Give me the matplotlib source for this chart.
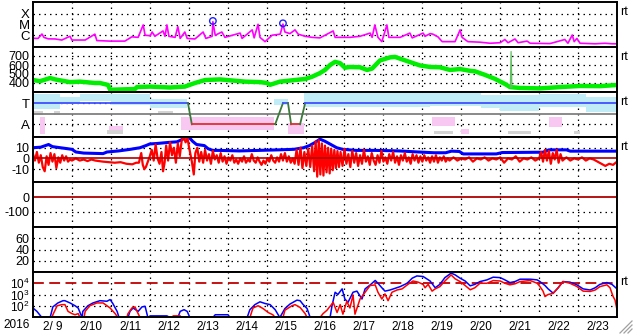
import numpy as np
import matplotlib
matplotlib.use("Agg")
import matplotlib.pyplot as plt
from matplotlib.lines import Line2D
from matplotlib.ticker import NullFormatter

plt.rcParams['font.family'] = 'Liberation Sans'
plt.rcParams['mathtext.fontset'] = 'custom'
plt.rcParams['mathtext.rm'] = 'Liberation Sans'
plt.rcParams['axes.unicode_minus'] = False

# time axis: days since 2016-02-09 00:00 UT
day_labels = ["2/ 9", "2/10", "2/11", "2/12", "2/13", "2/14", "2/15", "2/16",
              "2/17", "2/18", "2/19", "2/20", "2/21", "2/22", "2/23"]

# --- X-ray flux (log10 W/m2)
xray_t = [0.0, 0.13, 0.23, 0.28, 0.39, 0.57, 0.74, 0.95, 1.0, 1.34, 1.59, 1.64, 1.98, 2.36,
          2.54, 2.70, 2.83, 2.88, 3.01, 3.06, 3.13, 3.34, 3.39, 3.44, 3.49, 3.65, 3.72, 3.78,
          3.90, 3.96, 4.16, 4.37, 4.44, 4.60, 4.62, 4.68, 4.85, 4.93, 5.32, 5.37, 5.63, 5.68,
          5.78, 5.83, 5.96, 6.14, 6.35, 6.42, 6.47, 6.60, 6.73, 6.81, 6.99, 7.17, 7.37, 7.71,
          7.76, 8.14, 8.40, 8.66, 8.71, 8.78, 8.86, 8.96, 9.09, 9.14, 9.43, 9.68, 9.74, 10.02,
          10.07, 10.20, 10.27, 10.40, 10.51, 10.84, 10.97, 11.02, 11.17, 11.48, 11.74, 12.0,
          12.12, 12.2, 12.38, 12.46, 12.69, 12.77, 13.28, 13.66, 13.74, 13.85, 13.9, 13.97,
          14.05, 14.44, 14.69, 14.87, 15.0]
xray_log = [-6.29, -6.3, -5.89, -6.2, -6.34, -6.35, -6.45, -6.1, -6.45, -6.45, -5.9, -6.5, -6.55, -6.55,
            -6.15, -6.2, -5.04, -6.0, -6.05, -5.7, -6.1, -5.6, -6.1, -5.04, -6.1, -6.2, -5.2, -6.3,
            -5.7, -6.3, -6.35, -5.7, -6.3, -6.1, -4.74, -6.0, -5.7, -6.2, -5.8, -6.3, -5.5, -6.25,
            -4.98, -6.2, -6.6, -6.0, -5.9, -4.96, -5.7, -5.85, -5.5, -5.9, -6.1, -6.2, -6.25, -5.6,
            -6.2, -6.2, -6.1, -5.8, -6.2, -5.04, -6.2, -6.6, -5.04, -6.2, -6.2, -5.8, -6.25, -5.8,
            -6.1, -5.85, -5.9, -6.15, -6.6, -6.6, -5.5, -6.2, -6.6, -6.65, -6.75, -6.7,
            -6.4, -6.7, -6.35, -6.7, -6.55, -6.75, -6.78, -6.4, -6.75, -5.98, -6.6, -6.3,
            -6.75, -6.8, -6.75, -6.8, -6.8]
flare_t = [4.62, 6.42]
flare_log = [-4.67, -4.89]

# --- solar wind speed (km/s)
sw_t = [0.0, 0.18, 0.44, 0.57, 0.69, 0.95, 1.21, 1.59, 1.72, 1.93, 1.98, 2.23, 2.62, 2.67, 3.01,
        3.52, 3.90, 4.16, 4.42, 4.80, 5.06, 5.45, 5.83, 6.01, 6.09, 6.34, 6.73, 6.99, 7.17, 7.37,
        7.50, 7.63, 7.76, 7.89, 8.01, 8.14, 8.40, 8.58, 8.71, 8.91, 9.17, 9.30, 9.43, 9.68, 9.94,
        10.20, 10.45, 10.71, 10.97, 11.23, 11.35, 11.61, 11.87, 12.12, 12.25, 12.51, 13.02,
        13.54, 14.05, 14.56, 15.0]
sw_v = [433, 420, 455, 440, 430, 410, 415, 400, 400, 378, 325, 328, 333, 355, 360,
        350, 360, 400, 433, 440, 430, 415, 410, 400, 380, 415, 433, 445, 470, 510,
        545, 600, 635, 620, 570, 578, 575, 545, 560, 650, 685, 690, 670, 633, 595,
        578, 575, 545, 555, 535, 530, 490, 445, 390, 355, 345, 340,
        355, 367, 365, 378]
sw_spike_t = [12.26, 12.28, 12.30]
sw_spike_v = [352, 750, 350]

# --- IMF sector (T = +1, A = -1) and phi-angle scatter ranges
sector_t = [0.0, 3.98, 4.08, 6.22, 6.42, 6.55, 6.63, 6.86, 6.99, 15.0]
sector_v = [1, 1, -1, -1, 1, 1, -1, -1, 1, 1]
toward_bands = [(0.0, 0.7, 0.4, 1.9), (0.7, 1.2, 0.9, 1.6), (1.2, 2.0, 1.2, 1.9),
                (2.0, 3.0, 0.8, 1.9), (3.0, 3.95, 0.5, 1.4), (6.2, 6.55, 0.8, 1.4),
                (6.95, 10.2, 0.6, 1.95), (10.2, 11.5, 0.7, 1.95), (11.5, 12.0, 0.5, 1.8),
                (12.0, 13.0, 0.3, 1.8), (13.0, 14.2, 0.6, 1.9), (14.2, 15.0, 0.2, 1.6)]
away_bands = [(0.18, 0.32, -1.9, -0.3), (1.95, 2.3, -1.8, -1.2), (3.8, 6.2, -1.5, -0.3),
              (6.55, 6.95, -1.9, -0.9), (10.25, 10.85, -1.2, -0.3), (11.0, 11.2, -1.9, -1.4),
              (13.25, 13.6, -1.3, -0.3)]
other_bands = [(0.0, 0.25, -0.1, 0.3), (0.55, 0.7, -0.1, 0.3), (1.9, 2.3, -1.95, -1.5),
               (3.2, 3.6, 0.0, 0.3), (10.3, 10.8, -1.95, -1.6), (12.2, 12.8, -1.95, -1.6),
               (13.9, 14.05, -1.95, -1.6)]

# --- IMF Bt / Bz (nT)
bt_t = [0.0, 0.2, 0.4, 0.5, 0.7, 0.9, 1.0, 1.1, 1.3, 1.8, 1.9, 2.2, 2.5, 2.75, 2.9, 3.0, 3.2,
        3.5, 3.7, 3.85, 3.9, 4.0, 4.1, 4.2, 4.4, 4.5, 4.62, 4.8, 5.3, 5.8, 6.3, 6.7, 6.95,
        7.1, 7.25, 7.37, 7.5, 7.65, 7.8, 7.95, 8.3, 8.8, 9.4, 9.9, 10.3, 10.6, 10.75, 10.95,
        11.05, 11.9, 12.05, 13.1, 13.25, 13.7, 13.8, 15.0]
bt_v = [10, 10.5, 13, 11, 10, 9, 8.5, 6, 5, 4.5, 6, 7, 8.5, 10, 12, 13.5, 14,
        15, 15.5, 18, 20, 20, 16, 13, 12, 9, 7.5, 7.5, 7, 7.5, 8, 8.5, 10,
        12, 15, 18, 16, 13, 10, 8.5, 7.5, 7.5, 7, 6, 5.3, 5.3, 6.8, 6.5,
        4.2, 4.2, 5.5, 5.8, 8, 8, 6.8, 6.8]
bz_t = [0.0, 0.05, 0.1, 0.15, 0.2, 0.25, 0.3, 0.35, 0.4, 0.45, 0.5, 0.55, 0.6, 0.65, 0.7,
        0.75, 0.8, 0.85, 0.9, 0.95, 1.0, 1.1, 1.2, 1.3, 1.4, 1.5, 1.6, 1.7, 1.8, 1.95, 2.1,
        2.25, 2.4, 2.55, 2.65, 2.72, 2.78, 2.82, 2.86, 2.9, 2.95, 3.0, 3.05, 3.1, 3.15, 3.2,
        3.25, 3.3, 3.34, 3.38, 3.42, 3.47, 3.52, 3.57, 3.62, 3.67, 3.72, 3.77, 3.82, 3.87,
        3.92, 3.97, 4.0, 4.08, 4.13, 4.17, 4.22, 4.27, 4.32, 4.37, 4.42, 4.47, 4.52, 4.57,
        4.62, 4.67, 4.72, 4.77, 4.82, 4.87, 4.92, 4.97, 5.02, 5.07, 5.12, 5.17, 5.22, 5.27,
        5.32, 5.37, 5.42, 5.47, 5.52, 5.57, 5.62, 5.67, 5.72, 5.77, 5.82, 5.87, 5.92, 5.97,
        6.02, 6.07, 6.12, 6.17, 6.22, 6.27, 6.32, 6.37, 6.42, 6.47, 6.52, 6.57, 6.62, 6.67,
        6.72, 6.77, 6.82, 6.87, 6.92, 6.97, 7.02, 7.07, 7.12, 7.17, 7.22, 7.26, 7.3, 7.34,
        7.38, 7.42, 7.46, 7.5, 7.54, 7.58, 7.62, 7.66, 7.7, 7.74, 7.78, 7.82, 7.86, 7.9,
        7.95, 8.0, 8.05, 8.1, 8.15, 8.2, 8.25, 8.3, 8.35, 8.4, 8.45, 8.5, 8.55, 8.6, 8.65,
        8.7, 8.75, 8.8, 8.85, 8.9, 8.95, 9.0, 9.05, 9.1, 9.15, 9.2, 9.25, 9.3, 9.35, 9.4,
        9.45, 9.5, 9.55, 9.6, 9.65, 9.7, 9.75, 9.8, 9.85, 9.9, 9.95, 10.0, 10.05, 10.1,
        10.15, 10.2, 10.25, 10.3, 10.35, 10.4, 10.45, 10.5, 10.55, 10.6, 10.65, 10.7, 10.8,
        10.9, 11.0, 11.1, 11.2, 11.3, 11.4, 11.5, 11.6, 11.7, 11.8, 11.9, 12.0, 12.1, 12.2,
        12.3, 12.4, 12.5, 12.6, 12.7, 12.8, 12.9, 13.0, 13.05, 13.1, 13.15, 13.2, 13.25,
        13.3, 13.35, 13.4, 13.45, 13.5, 13.55, 13.6, 13.7, 13.8, 13.9, 14.0, 14.1, 14.2,
        14.3, 14.4, 14.5, 14.6, 14.7, 14.8, 14.9, 15.0]
bz_v = [4, -2, 6, -4, 3, -8, -12, 2, -6, 5, -3, 4, -9, 1, -4,
        3, -2, 2, -3, -1, -2, 0, -2, -1, -2.5, -1, -2, -2.5, -3, -3.5, -4,
        -3.5, -5, -5.5, -4, -4, 5, -6, -10, -8, -3, 2, 8, -2, 13, 0,
        -5, 6, -12, -4, 12, -2, 15, 3, 10, -4, 14, 2, 17, 20,
        15, 19, 12, -3, -15, 5, 10, -3, 6, -4, 8, -2, 4, -5,
        7, -1, 3, -4, 5, -3, 2, -5, 1, -2, 3, -4, -1, -5,
        0, -3, 2, -4, -1, -3, 4, -2, -4, 1, -3, -6, -2, -5,
        0, -3, 3, -2, -4, 1, -3, 4, -2, 5, -3, 2, -4, 0,
        -5, 8, -6, 10, -9, 6, -7, 9, -8, 12, -12, 16, -17, 17,
        -15, 14, -16, 12, -13, 10, -14, 9, -11, 8, -9, 7, -8, 6,
        -7, 9, -5, 4, -8, 7, -4, 5, -7, 3, -5, 8, -3, 2, -6,
        5, -2, -6, 3, -4, 7, -3, 1, -5, 4, -2, 6, -4, 2, -6,
        3, -2, 5, -3, 1, -5, 4, -2, 3, -4, 2, -3, 3, -2,
        1, -4, 2, -3, 3, -4, 1, -2, 2, -3, 0, -2, 1,
        -2, 0, -1, 1, -3, 0, -1, 1, -2, 0, -1, 1, -4, 0,
        -1, 2, -3, 0, -1, 1, -2, 0, 6, -3, 8, -2, 7,
        -5, 5, -1, 8, -4, 4, -2, 1, -2, 0, -1, 1, -2,
        0, -1, -3, -5, -7, -5, -6, -3]

# --- Dst (no data) and empty index panel
dst_zero = 0

# --- >2 MeV electron flux (log10), GOES east (blue) / west (red)
elec_blue_t = [0.00, 0.10, 0.23, 0.44, 0.51, 0.64, 0.77, 0.82, 0.95, 1.08, 1.16, 1.26, 1.28, 1.41,
               1.54, 1.72, 1.90, 1.98, 2.05, 2.16, 2.21, 2.44, 2.49, 2.57, 2.70, 2.80, 2.88, 2.95,
               3.01, 3.44, 3.52, 3.72, 3.78, 3.88, 3.96, 4.03, 4.62, 4.68, 5.01, 5.06, 5.50, 5.57,
               5.70, 5.83, 5.96, 6.09, 6.22, 6.34, 6.47, 6.60, 6.78, 6.86, 6.94, 7.04, 7.12, 7.63,
               7.68, 7.76, 7.83, 7.94, 8.01, 8.09, 8.22, 8.32, 8.45, 8.53, 8.66, 8.79, 8.86, 8.96,
               9.04, 9.17, 9.30, 9.43, 9.61, 9.74, 9.86, 10.02, 10.20, 10.33, 10.45, 10.58, 10.74,
               10.84, 10.97, 11.10, 11.23, 11.35, 11.48, 11.66, 11.82, 12.00, 12.12, 12.25, 12.38,
               12.51, 12.77, 12.95, 13.02, 13.15, 13.23, 13.36, 13.49, 13.61, 13.79, 13.97, 14.13,
               14.31, 14.44, 14.56, 14.74, 14.87, 15.0]
elec_blue_v = [1.8, 1.5, 0.95, 0.95, 1.9, 2.25, 2.45, 2.45, 2.25, 2.0, 1.8, 0.95, 1.5, 2.0,
               2.25, 2.45, 2.4, 2.55, 2.2, 1.5, 0.95, 0.95, 1.5, 1.8, 1.5, 1.9, 1.95, 0.95,
               1.1, 1.1, 0.95, 0.95, 1.5, 1.65, 1.5, 0.95, 0.95, 1.2, 1.2, 0.95, 0.95, 1.65,
               2.1, 2.35, 2.2, 2.1, 1.65, 0.95, 1.75, 2.15, 2.5, 2.45, 2.1, 1.75, 0.95, 0.95,
               2.0, 3.2, 3.0, 3.5, 2.6, 2.3, 3.2, 3.3, 2.6, 3.5, 3.85, 4.25, 4.0, 3.6,
               3.3, 3.4, 3.55, 3.7, 4.0, 4.45, 4.65, 4.6, 4.2, 3.6, 3.9, 4.5, 4.9,
               4.75, 4.45, 4.2, 3.77, 3.9, 4.15, 4.3, 4.54, 4.5, 4.3, 4.06, 4.15,
               4.36, 4.36, 4.3, 4.15, 3.8, 3.5, 3.12, 3.6, 4.15, 4.1, 3.86, 3.5,
               3.4, 3.6, 3.9, 4.06, 3.9, 3.5]
elec_red_t = [0.0, 0.49, 0.51, 0.62, 0.74, 0.82, 0.90, 1.0, 1.08, 1.16, 1.21, 1.31, 1.34, 1.46,
              1.64, 1.80, 1.90, 1.98, 2.11, 2.18, 2.41, 2.44, 2.54, 2.62, 2.70, 2.75, 3.57, 3.60,
              3.78, 3.80, 5.57, 5.65, 5.78, 5.91, 6.04, 6.16, 6.22, 6.42, 6.47, 6.65, 6.73, 6.86,
              6.99, 7.04, 7.37, 7.45, 7.55, 7.71, 7.81, 7.89, 7.96, 8.06, 8.14, 8.22, 8.27, 8.40,
              8.53, 8.66, 8.79, 8.86, 8.96, 9.04, 9.12, 9.22, 9.35, 9.48, 9.63, 9.76, 9.89, 10.02,
              10.07, 10.15, 10.25, 10.33, 10.45, 10.58, 10.74, 10.84, 10.97, 11.10, 11.23, 11.35,
              11.48, 11.66, 11.82, 12.00, 12.12, 12.25, 12.38, 12.51, 12.77, 12.95, 13.02, 13.10,
              13.15, 13.23, 13.36, 13.49, 13.61, 13.79, 13.97, 14.13, 14.31, 14.44, 14.56, 14.74,
              14.82, 14.90, 14.95, 15.0]
elec_red_v = [0.95, 0.95, 1.2, 2.0, 2.1, 2.1, 1.5, 1.3, 1.2, 1.3, 0.95, 0.95, 1.5, 2.0,
              2.25, 2.25, 2.0, 1.8, 1.3, 0.95, 0.95, 1.3, 1.8, 1.9, 1.3, 0.95, 0.95, 1.1,
              1.1, 0.95, 0.95, 1.8, 2.0, 1.75, 1.4, 1.2, 0.95, 0.95, 1.6, 2.0, 2.1, 1.85,
              1.3, 0.95, 0.95, 1.3, 1.6, 2.3, 1.4, 2.1, 1.25, 2.4, 1.8, 2.95, 1.25, 2.6,
              3.2, 3.8, 3.85, 3.2, 2.6, 3.05, 2.45, 3.2, 3.4, 3.5, 3.9, 4.2, 4.1, 3.9,
              3.6, 3.9, 3.3, 3.5, 3.7, 4.2, 4.74, 4.4, 4.15, 3.8, 3.42, 3.6,
              4.0, 4.0, 4.24, 4.2, 4.0, 3.86, 3.95, 4.15, 4.24, 4.0, 3.71, 3.3,
              2.82, 3.0, 3.1, 3.6, 4.15, 4.0, 3.71, 3.3, 3.27, 3.4, 3.7, 3.86,
              3.6, 2.82, 2.5, 1.65]

W, H = 633, 334
fig = plt.figure(figsize=(W / 100, H / 100), dpi=100)
fig.patch.set_facecolor('white')
DOT = (0, (1.2, 3.2))


def panel(i):
    top = 2 + 45 * i
    ax = fig.add_axes([33 / W, 1 - (top + 45) / H, 584 / W, 45 / H])
    ax.set_xlim(0, 15)
    ax.set_xticks([])
    for s in ax.spines.values():
        s.set_linewidth(1.4)
        s.set_color('black')
        s.set_zorder(10)
    ax.tick_params(axis='y', which='both', length=0, pad=2.5, labelsize=9)
    for d in range(1, 15):
        ax.axvline(d, color='black', lw=0.9, ls=DOT, zorder=0.5)
    return ax


def hgrid(ax, vals):
    for v in vals:
        ax.axhline(v, color='black', lw=0.9, ls=DOT, zorder=0.5)


def rt(ax):
    ax.text(1 + 3 / 584, 1 - 10 / 45, 'rt', transform=ax.transAxes,
            fontsize=9, ha='left', va='center')


# panel 1: X-ray
ax1 = panel(0)
ax1.set_yscale('log')
ax1.set_ylim(10 ** -7.1, 10 ** -2.9)
ax1.minorticks_off()
ax1.set_yticks([1e-6, 1e-5, 1e-4])
ax1.set_yticklabels(['C', 'M', 'X'])
ax1.tick_params(axis='y', labelsize=9.5)
hgrid(ax1, [1e-6, 1e-5, 1e-4])
ax1.plot(xray_t, 10 ** np.array(xray_log), color='#ff00ff', lw=1.2, zorder=2)
ax1.scatter(flare_t, 10 ** np.array(flare_log), s=22, facecolors='none',
            edgecolors='#2020ff', linewidths=1.0, zorder=3)
rt(ax1)

# panel 2: solar wind speed
ax2 = panel(1)
ax2.set_ylim(300, 800)
ax2.set_yticks([400, 500, 600, 700])
hgrid(ax2, [400, 500, 600, 700])
ax2.plot(sw_t, sw_v, color='#00ee00', lw=3.2, zorder=2)
ax2.plot(sw_spike_t, sw_spike_v, color='#60c060', lw=0.9, zorder=2)
rt(ax2)

# panel 3: IMF sector
ax3 = panel(2)
ax3.set_ylim(-2.2, 2.05)
ax3.set_yticks([1, -1])
ax3.set_yticklabels(['T', 'A'])
ax3.tick_params(axis='y', labelsize=9.5)
hgrid(ax3, [1, -1])
for bands, col in [(toward_bands, '#c0ecf8'), (away_bands, '#f8c8f2'), (other_bands, '#d4d4d4')]:
    for t0, t1, lo, hi in bands:
        ax3.fill_between([t0, t1], [lo, lo], [hi, hi], facecolor=col,
                         linewidth=0, zorder=1)
ax3.axhline(0, color='#808080', lw=1.3, zorder=2)
for k in range(len(sector_t) - 1):
    if sector_v[k] == sector_v[k + 1]:
        c = '#4050ff' if sector_v[k] > 0 else '#e03030'
    else:
        c = '#3c7a3c'
    ax3.plot(sector_t[k:k + 2], sector_v[k:k + 2], color=c, lw=1.3, zorder=3)
rt(ax3)

# panel 4: Bt / Bz
ax4 = panel(3)
ax4.set_ylim(-22, 20)
ax4.set_yticks([10, 0, -10])
hgrid(ax4, [10, -10])
ax4.plot(bt_t, bt_v, color='#0000ff', lw=2.2, zorder=2)
ax4.plot(bz_t, bz_v, color='#ff0000', lw=1.6, zorder=3)
ax4.axhline(0, color='#b00000', lw=1.2, zorder=4)
rt(ax4)

# panel 5: Dst
ax5 = panel(4)
ax5.set_ylim(-200, 100)
ax5.set_yticks([0, -100])
hgrid(ax5, [-100])
ax5.axhline(dst_zero, color='#b00000', lw=1.3, zorder=2)

# panel 6: empty index panel
ax6 = panel(5)
ax6.set_ylim(0, 80)
ax6.set_yticks([60, 40, 20])
hgrid(ax6, [60, 40, 20])

# panel 7: electron flux
ax7 = panel(6)
ax7.set_yscale('log')
ax7.set_ylim(10, 1e5)
ax7.minorticks_off()
ax7.yaxis.set_minor_formatter(NullFormatter())
ax7.set_yticks([1e4, 1e3, 1e2])
ax7.set_yticklabels([r'10$^{\mathregular{4}}$', r'10$^{\mathregular{3}}$', r'10$^{\mathregular{2}}$'])
ax7.tick_params(axis='y', labelsize=8.5)
hgrid(ax7, [1e3, 1e2])
ax7.axhline(1e4, color='#c00000', lw=1.3, ls=(0, (6, 3)), zorder=1.5)
ax7.plot(elec_blue_t, 10 ** np.array(elec_blue_v), color='#0000ff', lw=1.1, zorder=2)
ax7.plot(elec_red_t, 10 ** np.array(elec_red_v), color='#ff0000', lw=1.1, zorder=3)
ax7.set_xticks([d + 0.5 for d in range(15)])
ax7.set_xticklabels(day_labels)
ax7.tick_params(axis='x', length=0, pad=3, labelsize=8.5)
rt(ax7)

fig.text(16.5 / W, 1 - 325 / H, '2016', fontsize=8.5, ha='center', va='center')

# window resize grip in the corner
for k in range(3):
    off = 4 * k
    fig.add_artist(Line2D([(620 + off) / W, 632 / W], [1 - 333 / H, 1 - (321 + off) / H],
                          color='#a0a0a0', lw=0.9))

fig.savefig('out.png', dpi=100, facecolor='white')
